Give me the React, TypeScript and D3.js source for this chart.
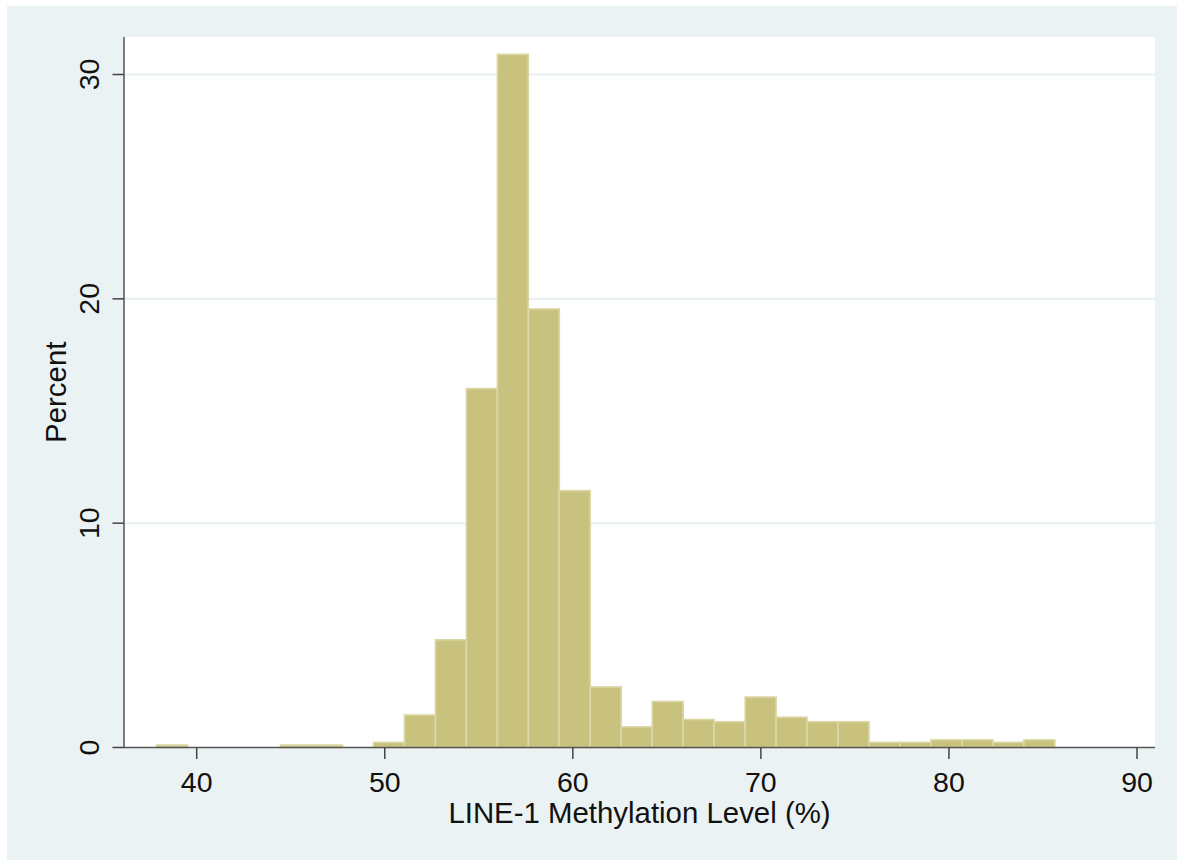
import React from "react";
import * as d3 from "d3";

const binStart = 37.87;
const binWidth = 1.647;
const percents = [
  0.11, 0, 0, 0, 0.11, 0.11, 0, 0.23, 1.45, 4.8, 16.0, 30.9, 19.55, 11.45, 2.7,
  0.92, 2.05, 1.25, 1.15, 2.25, 1.35, 1.15, 1.15, 0.23, 0.23, 0.34, 0.34, 0.23, 0.34,
];
const xTicks = [40, 50, 60, 70, 80, 90];
const yTicks = [0, 10, 20, 30];
const xTitle = "LINE-1 Methylation Level (%)";
const yTitle = "Percent";

export default function App() {
  const W = 1177, H = 860;
  const plotL = 124, plotR = 1155, plotT = 37, plotB = 747.5;
  const x = d3.scaleLinear().domain([40, 90]).range([196.7, 1137]);
  const y = d3.scaleLinear().domain([0, 30]).range([747.5, 74.5]);
  const font = "Arial, 'Liberation Sans', Helvetica, sans-serif";
  const bars = percents.map((p, i) => ({ x0: binStart + i * binWidth, x1: binStart + (i + 1) * binWidth, p }));
  return (
    <svg width={W} height={H} style={{ position: "absolute", left: 0, top: 0 }} fontFamily={font}>
      <rect x={0} y={0} width={W} height={H} fill="#ffffff" />
      <rect x={7} y={6} width={W - 7} height={H - 6} fill="#EAF2F3" />
      <rect x={plotL} y={plotT} width={plotR - plotL} height={plotB - plotT} fill="#ffffff" />
      {yTicks.filter((t) => t > 0).map((t) => (
        <line key={"g" + t} x1={plotL} x2={plotR} y1={y(t)} y2={y(t)} stroke="#E6EFF1" strokeWidth={2} />
      ))}
      {bars.filter((b) => b.p > 0).map((b, i) => (
        <rect
          key={i}
          x={x(b.x0)}
          y={y(b.p)}
          width={x(b.x1) - x(b.x0)}
          height={y(0) - y(b.p)}
          fill="#C9C27F"
          stroke="#DCD7A6"
          strokeWidth={1.6}
        />
      ))}
      <line x1={plotL} x2={plotL} y1={plotT} y2={plotB} stroke="#555" strokeWidth={1.5} />
      <line x1={plotL} x2={plotR} y1={plotB} y2={plotB} stroke="#555" strokeWidth={1.5} />
      {xTicks.map((t) => (
        <g key={"x" + t}>
          <line x1={x(t)} x2={x(t)} y1={plotB} y2={plotB + 11.5} stroke="#444" strokeWidth={1.5} />
          <text x={x(t)} y={792} textAnchor="middle" fontSize={28.5} fill="#111">{t}</text>
        </g>
      ))}
      {yTicks.map((t) => (
        <g key={"y" + t}>
          <line x1={plotL - 11.5} x2={plotL} y1={y(t)} y2={y(t)} stroke="#444" strokeWidth={1.5} />
          <text transform={`translate(99.3,${y(t)}) rotate(-90)`} textAnchor="middle" fontSize={28.5} fill="#111">{t}</text>
        </g>
      ))}
      <text x={(plotL + plotR) / 2} y={822.7} textAnchor="middle" fontSize={29.4} fill="#111">{xTitle}</text>
      <text transform={`translate(66,${(plotT + plotB) / 2}) rotate(-90)`} textAnchor="middle" fontSize={29.4} fill="#111">{yTitle}</text>
    </svg>
  );
}
